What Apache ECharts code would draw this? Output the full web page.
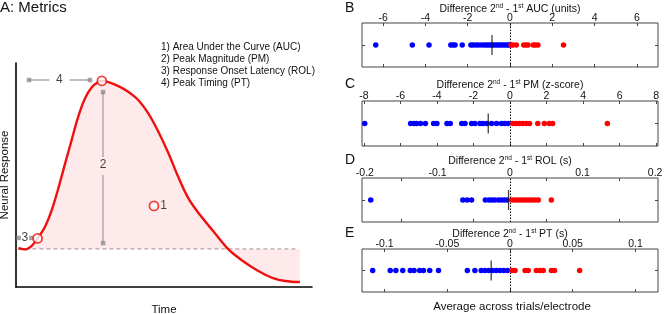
<!DOCTYPE html>
<html>
<head>
<meta charset="utf-8">
<script src="https://cdn.jsdelivr.net/npm/echarts@6/dist/echarts.min.js"></script>
<style>
  html, body { margin: 0; padding: 0; background: #fff; }
  #chart { width: 666px; height: 314px; }
</style>
</head>
<body>
<div id="chart"></div>
<script>
// ---- panel A: schematic response curve (arbitrary units, 0-100) ----
var curveTime = [0.8, 3.0, 5.3, 7.3, 9.8, 12.1, 14.3, 16.6, 18.8, 21.0, 23.3, 25.6, 27.8, 29.0, 31.2, 34.6, 37.9, 41.3, 44.7, 48.1, 51.5, 54.8, 58.2, 62.2, 66.6, 71.6, 75.7, 79.1, 83.1, 86.8, 90.9, 95.9];
var curveResp = [17.3, 16.8, 18.4, 21.7, 26.9, 34.4, 44.1, 55.2, 65.6, 76.0, 84.2, 89.2, 91.5, 92.0, 91.5, 89.7, 87.2, 83.5, 77.5, 69.3, 59.7, 49.2, 39.7, 32.1, 25.0, 17.0, 12.5, 9.4, 6.25, 4.0, 2.7, 2.2];
var baselineLevel = 17;
var baselineEnd = 95.3;

var metricLegend = ['1) Area Under the Curve (AUC)', '2) Peak Magnitude (PM)', '3) Response Onset Latency (ROL)', '4) Peak Timing (PT)'];

// metric markers: [time, response]
var markerPoints = [[29.0, 92.0], [7.3, 21.7], [46.6, 36.2]];
// gray dimension guides
var ptSegments = [[[4.4, 92.4], [11.3, 92.4]], [[18.2, 92.4], [25.0, 92.4]]];
var pmSegments = [[[29.4, 87.0], [29.4, 58.0]], [[29.4, 50.0], [29.4, 19.6]]];
var guideEnds = [[4.4, 92.4], [25.0, 92.4], [29.4, 87.0], [29.4, 19.6], [0.9, 21.9], [5.2, 21.9]];
var guideLabels = [['1', 49.9, 36.2], ['2', 29.4, 54.5], ['3', 3.0, 21.9], ['4', 14.6, 92.4]];

// ---- panels B-E: per-electrode differences ----
var aucNeg = [-6.35, -4.62, -3.83, -2.8, -2.7, -2.6, -2.26, -1.85, -1.75, -1.62, -1.5, -1.35, -1.22, -1.1, -1.0, -0.9, -0.8, -0.7, -0.6, -0.5, -0.4, -0.3, -0.2, -0.1, -0.03];
var aucPos = [0.05, 0.14, 0.3, 0.65, 0.75, 0.85, 1.1, 1.2, 1.32, 2.53];
var aucMean = -0.85;

var pmNeg = [-7.95, -5.44, -5.26, -5.12, -4.9, -4.63, -4.18, -4.0, -3.45, -3.27, -2.64, -2.46, -2.1, -1.92, -1.65, -1.48, -1.28, -1.01, -0.74, -0.47, -0.29, -0.11];
var pmPos = [0.16, 0.34, 0.52, 0.7, 0.89, 1.07, 1.52, 1.88, 2.15, 2.33, 5.33];
var pmMean = -1.19;

var rolNeg = [-0.192, -0.065, -0.059, -0.053, -0.034, -0.029, -0.025, -0.021, -0.016, -0.012, -0.008, -0.004];
var rolPos = [0.003, 0.007, 0.011, 0.015, 0.019, 0.023, 0.027, 0.031, 0.035, 0.039, 0.057];
var rolMean = -0.002;

var ptNeg = [-0.1095, -0.0955, -0.091, -0.0855, -0.0795, -0.0765, -0.072, -0.069, -0.064, -0.057, -0.034, -0.028, -0.023, -0.02, -0.017, -0.014, -0.011, -0.008, -0.005, -0.002];
var ptPos = [0.0015, 0.004, 0.012, 0.0145, 0.021, 0.024, 0.0265, 0.033, 0.0355, 0.0555];
var ptMean = -0.015;

var aucTicks = [-6, -4, -2, 0, 2, 4, 6];
var pmTicks = [-8, -6, -4, -2, 0, 2, 4, 6, 8];
var rolTicks = [-0.2, -0.1, 0, 0.1, 0.2];
var rolMinorTicks = [-0.15, -0.05, 0.05, 0.15];
var ptTicks = [-0.1, -0.05, 0, 0.05, 0.1];

var FONT = 'Liberation Sans, Arial, sans-serif';

var panels = [
  { letter: 'B', metric: 'AUC (units)', neg: aucNeg, pos: aucPos, mean: aucMean, labels: aucTicks, ticks: aucTicks, range: 7, top: 23, height: 44, titleY: 8 },
  { letter: 'C', metric: 'PM (z-score)', neg: pmNeg, pos: pmPos, mean: pmMean, labels: pmTicks, ticks: pmTicks, range: 8.1, top: 101, height: 45, titleY: 84 },
  { letter: 'D', metric: 'ROL (s)', neg: rolNeg, pos: rolPos, mean: rolMean, labels: rolTicks, ticks: rolMinorTicks, range: 0.204, top: 178, height: 44, titleY: 160 },
  { letter: 'E', metric: 'PT (s)', neg: ptNeg, pos: ptPos, mean: ptMean, labels: ptTicks, ticks: ptTicks, range: 0.118, top: 249, height: 43, titleY: 233 }
];

var chart = echarts.init(document.getElementById('chart'));

var grids = [{ left: 16, top: 63, width: 296, height: 224, outerBoundsMode: 'none' }];
var xAxes = [{
  gridIndex: 0, type: 'value', min: 0, max: 100,
  name: 'Time', nameLocation: 'middle', nameGap: 17,
  nameTextStyle: { fontSize: 11.5, color: '#111', fontFamily: FONT },
  axisLine: { lineStyle: { color: '#000', width: 1.6 } },
  axisTick: { show: false }, axisLabel: { show: false }, splitLine: { show: false }
}];
var yAxes = [{
  gridIndex: 0, type: 'value', min: 0, max: 100,
  name: 'Neural Response', nameLocation: 'middle', nameGap: 5,
  nameTextStyle: { fontSize: 11.5, color: '#111', fontFamily: FONT },
  axisLine: { lineStyle: { color: '#000', width: 1.6 } },
  axisTick: { show: false }, axisLabel: { show: false }, splitLine: { show: false }
}];

var series = [];
// shaded curve
series.push({
  type: 'line', xAxisIndex: 0, yAxisIndex: 0, z: 3,
  data: curveTime.map(function (t, i) { return [t, curveResp[i]]; }),
  smooth: 0.35, showSymbol: false,
  lineStyle: { color: '#f01010', width: 2.4 },
  areaStyle: { origin: baselineLevel, color: 'rgba(245, 90, 90, 0.18)' }
});
// dashed baseline
series.push({
  type: 'line', xAxisIndex: 0, yAxisIndex: 0, z: 2,
  data: [[curveTime[0], baselineLevel], [baselineEnd, baselineLevel]],
  showSymbol: false,
  lineStyle: { color: '#999', width: 1, type: [4, 3] }
});
// gray guides
ptSegments.concat(pmSegments).forEach(function (seg) {
  series.push({
    type: 'line', xAxisIndex: 0, yAxisIndex: 0, z: 4, data: seg, showSymbol: false,
    lineStyle: { color: '#aaa', width: 1.4 }
  });
});
series.push({
  type: 'scatter', xAxisIndex: 0, yAxisIndex: 0, z: 5, data: guideEnds,
  symbol: 'rect', symbolSize: 4.5, itemStyle: { color: '#8d8d8d' }
});
// metric markers
series.push({
  type: 'scatter', xAxisIndex: 0, yAxisIndex: 0, z: 6, data: markerPoints,
  symbol: 'circle', symbolSize: 9,
  itemStyle: { color: '#fff', borderColor: '#f01010', borderWidth: 1.8 }
});
// guide numbers
series.push({
  type: 'scatter', xAxisIndex: 0, yAxisIndex: 0, z: 7,
  data: guideLabels.map(function (g) { return { name: g[0], value: [g[1], g[2]] }; }),
  symbolSize: 0,
  label: { show: true, position: 'inside', formatter: '{b}', fontSize: 12, color: '#111', fontFamily: FONT }
});

var plain = { fontWeight: 'normal', color: '#111', fontFamily: FONT };
var titles = [{
  text: 'A: Metrics', left: 0, top: 0, padding: 0,
  textStyle: Object.assign({ fontSize: 15 }, plain)
}];
metricLegend.forEach(function (txt, i) {
  titles.push({
    text: txt, left: 161, top: 42 + i * 12, padding: 0,
    textStyle: Object.assign({ fontSize: 10 }, plain)
  });
});

var sup = { fontSize: 6.5, fontFamily: FONT, color: '#111', lineHeight: 8, verticalAlign: 'top' };

panels.forEach(function (p, i) {
  var gi = i + 1;
  grids.push({ left: 362, top: p.top, width: 296, height: p.height, outerBoundsMode: 'none', show: true, borderColor: '#444', borderWidth: 1 });
  var xi = xAxes.length, yi = yAxes.length;
  var xBase = {
    gridIndex: gi, type: 'value', min: -p.range, max: p.range,
    axisLine: { show: false, onZero: false }, splitLine: { show: false }
  };
  xAxes.push(Object.assign({}, xBase, {
    position: 'top',
    axisTick: { show: true, inside: true, length: 3, customValues: p.ticks, lineStyle: { color: '#444' } },
    axisLabel: { customValues: p.labels, fontSize: 10.5, color: '#111', margin: -1, fontFamily: FONT }
  }));
  xAxes.push(Object.assign({}, xBase, {
    position: 'bottom',
    axisTick: { show: true, inside: true, length: 3, customValues: p.ticks, lineStyle: { color: '#444' } },
    axisLabel: { show: false }
  }));
  ['left', 'right'].forEach(function (pos) {
    yAxes.push({
      gridIndex: gi, type: 'value', min: -1, max: 1, position: pos,
      axisLine: { show: false, onZero: false }, splitLine: { show: false }, axisLabel: { show: false },
      axisTick: { show: true, inside: true, length: 3, customValues: [0], lineStyle: { color: '#444' } }
    });
  });
  series.push({
    type: 'scatter', xAxisIndex: xi, yAxisIndex: yi, z: 3,
    data: p.neg.map(function (v) { return [v, 0]; }),
    symbolSize: 5.5, itemStyle: { color: '#0000ff', opacity: 1 },
    markLine: {
      silent: true, symbol: 'none', label: { show: false }, z: 1,
      lineStyle: { color: '#000', width: 1, type: [1.5, 1.5] },
      data: [{ xAxis: 0 }]
    }
  });
  series.push({
    type: 'scatter', xAxisIndex: xi, yAxisIndex: yi, z: 3,
    data: p.pos.map(function (v) { return [v, 0]; }),
    symbolSize: 5.5, itemStyle: { color: '#ff0000', opacity: 1 }
  });
  series.push({
    type: 'scatter', xAxisIndex: xi, yAxisIndex: yi, z: 4,
    data: [[p.mean, 0]], symbol: 'rect', symbolSize: [1.3, 20], itemStyle: { color: '#111' }
  });
  titles.push({
    text: p.letter, left: 345, top: p.titleY - 7, padding: 0,
    textStyle: Object.assign({ fontSize: 14 }, plain)
  });
  titles.push({
    text: 'Difference 2{s|nd} - 1{s|st} ' + p.metric, left: 510, textAlign: 'center', top: p.titleY - 5, padding: 0,
    textStyle: Object.assign({ fontSize: 10.5, lineHeight: 12, rich: { s: sup } }, plain)
  });
});

titles.push({
  text: 'Average across trials/electrode', left: 512, textAlign: 'center', top: 301, padding: 0,
  textStyle: Object.assign({ fontSize: 11.5 }, plain)
});

chart.setOption({
  animation: false,
  backgroundColor: '#fff',
  title: titles,
  grid: grids,
  xAxis: xAxes,
  yAxis: yAxes,
  series: series
});
</script>
</body>
</html>
